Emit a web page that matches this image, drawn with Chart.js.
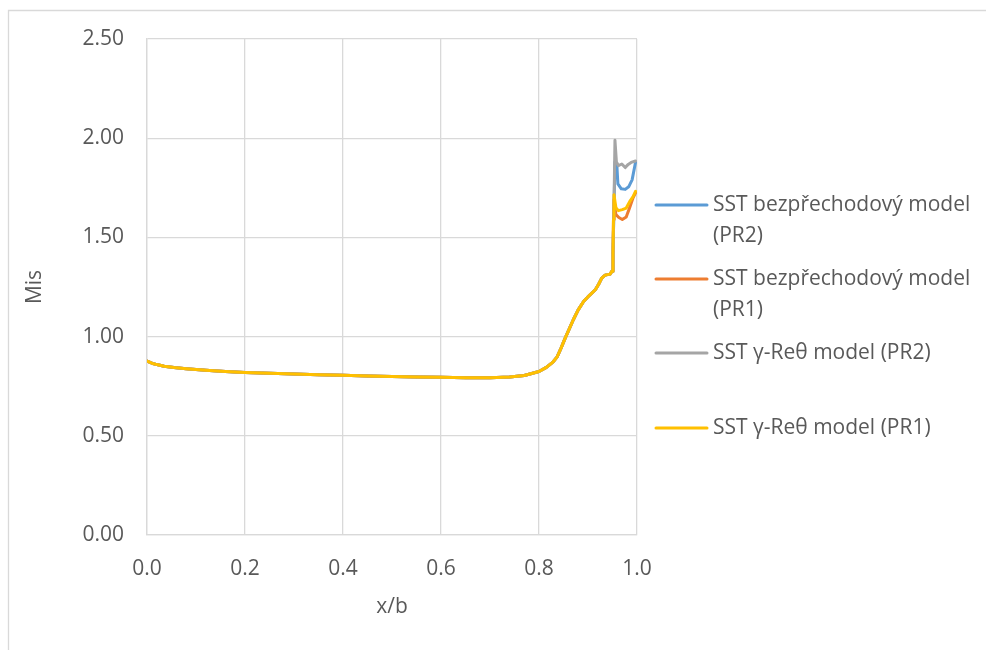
<!DOCTYPE html>
<html>
<head>
<meta charset="utf-8">
<script src="https://cdn.jsdelivr.net/npm/chart.js@4.4.1/dist/chart.umd.min.js"></script>
<style>
  html, body { margin: 0; padding: 0; background: #ffffff; }
  #wrap { width: 986px; height: 650px; position: relative; }
</style>
</head>
<body>
<div id="wrap"><canvas id="c" width="986" height="650"></canvas></div>
<script>
// Isentropic Mach number along the blade chord, four model variants.
const seriesNames = [
  'SST bezpřechodový model (PR2)',
  'SST bezpřechodový model (PR1)',
  'SST γ-Reθ model (PR2)',
  'SST γ-Reθ model (PR1)'
];
const legendLines = [
  ['SST bezpřechodový model', '(PR2)'],
  ['SST bezpřechodový model', '(PR1)'],
  ['SST γ-Reθ model (PR2)'],
  ['SST γ-Reθ model (PR1)']
];
const seriesColors = ['#5B9BD5', '#ED7D31', '#A5A5A5', '#FFC000'];

// Shared part of the distribution (all four curves coincide here)
const xCommon = [0.000, 0.010, 0.020, 0.035, 0.055, 0.080, 0.120, 0.160, 0.200, 0.250,
                 0.300, 0.350, 0.400, 0.450, 0.500, 0.550, 0.600, 0.650, 0.700, 0.740,
                 0.770, 0.800, 0.815, 0.829, 0.837, 0.845, 0.853, 0.862, 0.870, 0.880,
                 0.891, 0.903, 0.915, 0.922, 0.928, 0.935, 0.945, 0.949, 0.951];
const misCommon = [0.877, 0.866, 0.859, 0.851, 0.844, 0.838, 0.830, 0.824, 0.819, 0.815,
                   0.811, 0.808, 0.805, 0.802, 0.799, 0.797, 0.795, 0.793, 0.793, 0.796,
                   0.804, 0.824, 0.845, 0.873, 0.898, 0.942, 0.990, 1.040, 1.085, 1.135,
                   1.177, 1.208, 1.236, 1.265, 1.295, 1.310, 1.315, 1.330, 1.420];

// Trailing-edge part, per series
const xTailPR2Sst  = [0.953, 0.955, 0.959, 0.961, 0.968, 0.976, 0.983, 0.990, 0.997];
const misTailPR2Sst = [1.650, 1.880, 1.860, 1.770, 1.745, 1.742, 1.755, 1.790, 1.878];

const xTailPR1Sst  = [0.952, 0.953, 0.957, 0.963, 0.970, 0.978, 0.985, 0.992, 0.997];
const misTailPR1Sst = [1.590, 1.690, 1.615, 1.600, 1.590, 1.603, 1.650, 1.700, 1.725];

const xTailPR2Gam  = [0.953, 0.955, 0.958, 0.962, 0.969, 0.976, 0.982, 0.988, 0.997];
const misTailPR2Gam = [1.650, 1.990, 1.880, 1.862, 1.870, 1.852, 1.868, 1.878, 1.885];

const xTailPR1Gam  = [0.952, 0.953, 0.957, 0.962, 0.970, 0.978, 0.985, 0.992, 0.997];
const misTailPR1Gam = [1.590, 1.715, 1.650, 1.635, 1.640, 1.648, 1.680, 1.705, 1.732];

const xTicks = [0.0, 0.2, 0.4, 0.6, 0.8, 1.0];
const yTicks = [0.00, 0.50, 1.00, 1.50, 2.00, 2.50];

function toPoints(xs, ys) {
  return xs.map((x, i) => ({ x: x, y: ys[i] }));
}
const tails = [
  [xTailPR2Sst, misTailPR2Sst],
  [xTailPR1Sst, misTailPR1Sst],
  [xTailPR2Gam, misTailPR2Gam],
  [xTailPR1Gam, misTailPR1Gam]
];
// yellow on top, then grey, orange, blue underneath
const drawOrder = [3, 2, 1, 0];

const datasets = seriesNames.map((name, i) => ({
  label: name,
  data: toPoints(xCommon, misCommon).concat(toPoints(tails[i][0], tails[i][1])),
  borderColor: seriesColors[i],
  backgroundColor: seriesColors[i],
  borderWidth: 3,
  pointRadius: 0,
  showLine: true,
  tension: 0,
  borderCapStyle: 'round',
  borderJoinStyle: 'round',
  order: drawOrder[i]
}));

const FONT = '"Open Sans", "Noto Sans", sans-serif';
const TEXT = '#595959';
const GRID = '#D9D9D9';

// Outer frame and the side legend
const framePlugin = {
  id: 'frame',
  beforeDraw(chart) {
    const ctx = chart.ctx;
    ctx.save();
    ctx.strokeStyle = GRID;
    ctx.lineWidth = 1.3;
    ctx.beginPath();
    ctx.moveTo(8.5, 650);
    ctx.lineTo(8.5, 10.5);
    ctx.lineTo(986, 10.5);
    ctx.stroke();
    ctx.restore();
  }
};

const legendPlugin = {
  id: 'sideLegend',
  afterDraw(chart) {
    const ctx = chart.ctx;
    const rowY = [205, 279, 353, 428];
    ctx.save();
    ctx.font = '21px ' + FONT;
    ctx.textBaseline = 'middle';
    ctx.textAlign = 'left';
    legendLines.forEach((lines, i) => {
      const y = rowY[i];
      ctx.strokeStyle = seriesColors[i];
      ctx.lineWidth = 3;
      ctx.lineCap = 'round';
      ctx.beginPath();
      ctx.moveTo(656, y);
      ctx.lineTo(707, y);
      ctx.stroke();
      ctx.fillStyle = TEXT;
      lines.forEach((t, k) => ctx.fillText(t, 713, y + k * 31));
    });
    ctx.restore();
  }
};

new Chart(document.getElementById('c'), {
  type: 'scatter',
  data: { datasets: datasets },
  options: {
    responsive: false,
    animation: false,
    events: [],
    layout: { padding: { top: 39, right: 349, bottom: 0, left: 0 } },
    plugins: {
      legend: { display: false },
      tooltip: { enabled: false }
    },
    scales: {
      x: {
        type: 'linear',
        min: 0, max: 1,
        afterBuildTicks(scale) { scale.ticks = xTicks.map(v => ({ value: v })); },
        afterFit(scale) { scale.height = 115; },
        ticks: {
          font: { family: FONT, size: 21 },
          color: TEXT,
          padding: 21,
          callback: v => Number(v).toFixed(1)
        },
        grid: { color: GRID, lineWidth: 1.3, drawTicks: false },
        border: { color: GRID, width: 1.3 },
        title: {
          display: true,
          text: 'x/b',
          font: { family: FONT, size: 21 },
          color: TEXT,
          padding: { top: 0, bottom: 30 }
        }
      },
      y: {
        type: 'linear',
        min: 0, max: 2.5,
        afterBuildTicks(scale) { scale.ticks = yTicks.map(v => ({ value: v })); },
        afterFit(scale) { scale.width = 147; },
        ticks: {
          font: { family: FONT, size: 21 },
          color: TEXT,
          padding: 23,
          callback: v => Number(v).toFixed(2)
        },
        grid: { color: GRID, lineWidth: 1.3, drawTicks: false },
        border: { color: GRID, width: 1.3 },
        title: {
          display: true,
          text: 'Mis',
          font: { family: FONT, size: 21 },
          color: TEXT,
          padding: { top: 22, bottom: 0 }
        }
      }
    }
  },
  plugins: [framePlugin, legendPlugin]
});
</script>
</body>
</html>
